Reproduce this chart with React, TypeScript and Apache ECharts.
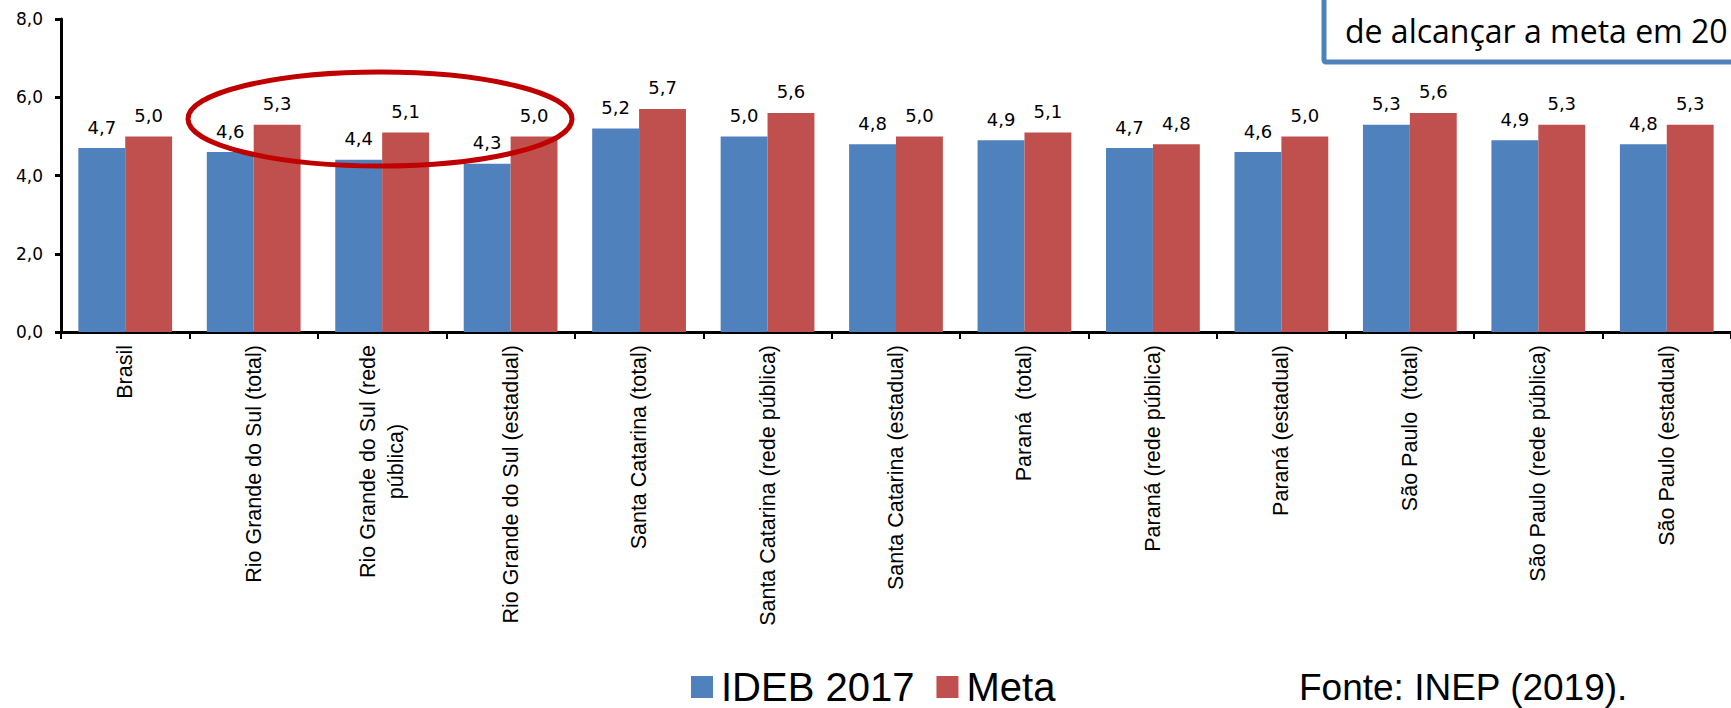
import React, { useEffect, useRef } from "react";
import * as echarts from "echarts";

const categories: string[] = [
  "Brasil",
  "Rio Grande do Sul (total)",
  "Rio Grande do Sul (rede\npública)",
  "Rio Grande do Sul (estadual)",
  "Santa Catarina (total)",
  "Santa Catarina (rede pública)",
  "Santa Catarina (estadual)",
  "Paraná  (total)",
  "Paraná (rede pública)",
  "Paraná (estadual)",
  "São Paulo  (total)",
  "São Paulo (rede pública)",
  "São Paulo (estadual)",
];

const ideb2017: number[] = [4.7, 4.6, 4.4, 4.3, 5.2, 5.0, 4.8, 4.9, 4.7, 4.6, 5.3, 4.9, 4.8];
const meta: number[] = [5.0, 5.3, 5.1, 5.0, 5.7, 5.6, 5.0, 5.1, 4.8, 5.0, 5.6, 5.3, 5.3];

const seriesNames: string[] = ["IDEB 2017", "Meta"];
const yTicks = { min: 0, max: 8, interval: 2 };
const boxText = "de alcançar a meta em 20";
const sourceText = "Fonte: INEP (2019).";

const fmt = (v: number) => v.toFixed(1).replace(".", ",");

export default function App() {
  const ref = useRef<HTMLDivElement>(null);
  useEffect(() => {
    if (!ref.current) return;
    const chart = echarts.init(ref.current, null, { renderer: "svg" });
    const labelStyle = {
      show: true,
      position: "top" as const,
      distance: 12,
      fontFamily: "DejaVu Sans",
      fontSize: 18,
      color: "#000",
      formatter: (p: any) => fmt(p.value),
    };
    chart.setOption({
      animation: false,
      backgroundColor: "#fff",
      grid: { left: 61, right: 0, top: 19, bottom: 376, containLabel: false },
      legend: {
        data: seriesNames,
        left: 691,
        top: 667,
        padding: 0,
        icon: "rect",
        itemWidth: 22,
        itemHeight: 22,
        itemGap: 22,
        textStyle: {
          fontSize: 40,
          fontFamily: "Liberation Sans",
          color: "#000",
          padding: [0, 0, 0, 3],
        },
      },
      xAxis: {
        type: "category",
        data: categories,
        axisLine: { lineStyle: { color: "#000", width: 3 } },
        axisTick: { show: true, length: 7, lineStyle: { color: "#000", width: 2 } },
        axisLabel: {
          rotate: 90,
          interval: 0,
          margin: 13,
          fontSize: 21.5,
          fontFamily: "Liberation Sans",
          color: "#000",
          lineHeight: 28,
          formatter: (v: string) =>
            v.includes("\n") ? v.split("\n").map((l) => `{c|${l}}`).join("\n") : v,
          rich: {
            c: {
              fontSize: 21.5,
              fontFamily: "Liberation Sans",
              color: "#000",
              align: "center",
              lineHeight: 28,
            },
          },
        },
      },
      yAxis: {
        type: "value",
        min: yTicks.min,
        max: yTicks.max,
        interval: yTicks.interval,
        splitLine: { show: false },
        axisLine: { show: true, lineStyle: { color: "#000", width: 3 } },
        axisTick: { show: true, length: 6, lineStyle: { color: "#000", width: 3 } },
        axisLabel: {
          margin: 18,
          fontSize: 17,
          fontFamily: "DejaVu Sans",
          color: "#000",
          formatter: (v: number) => fmt(v),
        },
      },
      series: [
        {
          name: seriesNames[0],
          type: "bar",
          data: ideb2017,
          barGap: "0%",
          barCategoryGap: "27%",
          itemStyle: { color: "#4f81bd" },
          label: labelStyle,
        },
        {
          name: seriesNames[1],
          type: "bar",
          data: meta,
          barGap: "0%",
          barCategoryGap: "27%",
          itemStyle: { color: "#c0504d" },
          label: labelStyle,
        },
      ],
      graphic: [
        {
          type: "ellipse",
          z: 100,
          shape: { cx: 380, cy: 119, rx: 192, ry: 47 },
          style: { fill: "none", stroke: "#c00000", lineWidth: 5 },
        },
        {
          type: "rect",
          z: 100,
          shape: { x: 1324, y: -10, width: 430, height: 72, r: 2 },
          style: { fill: "#fff", stroke: "#4f81bd", lineWidth: 5 },
        },
        {
          type: "text",
          z: 101,
          style: {
            text: boxText,
            x: 1345,
            y: 30,
            fontSize: 32,
            fontFamily: "Open Sans",
            fill: "#000",
            verticalAlign: "middle",
          },
        },
        {
          type: "text",
          z: 101,
          style: {
            text: sourceText,
            x: 1299,
            y: 687,
            fontSize: 37,
            fontFamily: "Liberation Sans",
            fill: "#000",
            verticalAlign: "middle",
          },
        },
      ],
    });
    return () => chart.dispose();
  }, []);
  return (
    <div
      ref={ref}
      style={{ position: "fixed", left: 0, top: 0, width: 1731, height: 708 }}
    />
  );
}
